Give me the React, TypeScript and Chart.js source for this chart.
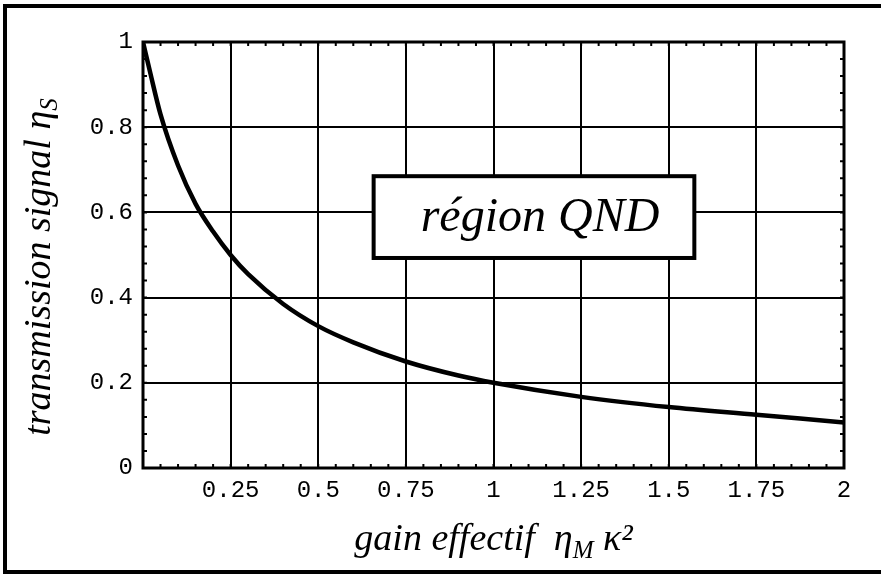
import React, { useEffect, useRef } from "react";
import { Chart, registerables } from "chart.js";

Chart.register(...registerables);

// gain effectif (x) and transmission signal (y)
const gainValues = [0, 0.02, 0.05, 0.1, 0.15, 0.2, 0.25, 0.3, 0.4, 0.5, 0.6, 0.75, 0.9, 1.0, 1.25, 1.5, 1.75, 2.0];
const transmissionValues = [1.0, 0.93, 0.83, 0.71, 0.62, 0.555, 0.5, 0.455, 0.385, 0.333, 0.295, 0.25, 0.217, 0.2, 0.167, 0.143, 0.125, 0.107];

const xTickValues = [0, 0.25, 0.5, 0.75, 1, 1.25, 1.5, 1.75, 2];
const xTickLabels = ["", "0.25", "0.5", "0.75", "1", "1.25", "1.5", "1.75", "2"];
const yTickValues = [0, 0.2, 0.4, 0.6, 0.8, 1];
const yTickLabels = ["0", "0.2", "0.4", "0.6", "0.8", "1"];

const annotationText = "région QND";
// box corners in data units
const boxX = [0.658, 1.573];
const boxY = [0.493, 0.685];

const xMinorStep = 0.05;
const yMinorStep = 0.04;

const SERIF = "'Liberation Serif', 'DejaVu Serif', serif";
const MONO = "'Liberation Mono', 'DejaVu Sans Mono', monospace";

const framePlugin = {
  id: "framePlugin",
  beforeDraw(chart: any) {
    const ctx = chart.ctx;
    ctx.save();
    ctx.fillStyle = "#fff";
    ctx.fillRect(0, 0, chart.width, chart.height);
    ctx.restore();
  },
  afterDraw(chart: any) {
    const ctx = chart.ctx;
    const xs = chart.scales.x;
    const ys = chart.scales.y;
    const a = chart.chartArea;
    ctx.save();
    // minor ticks (inward) on all four sides
    ctx.strokeStyle = "#000";
    ctx.lineWidth = 2;
    ctx.beginPath();
    for (let i = 1; i * xMinorStep < 2 - 1e-9; i++) {
      const px = xs.getPixelForValue(i * xMinorStep);
      ctx.moveTo(px, a.bottom);
      ctx.lineTo(px, a.bottom - 4);
      ctx.moveTo(px, a.top);
      ctx.lineTo(px, a.top + 4);
    }
    for (let i = 1; i * yMinorStep < 1 - 1e-9; i++) {
      const py = ys.getPixelForValue(i * yMinorStep);
      ctx.moveTo(a.left, py);
      ctx.lineTo(a.left + 4, py);
      ctx.moveTo(a.right, py);
      ctx.lineTo(a.right - 4, py);
    }
    ctx.stroke();
    // plot frame
    ctx.lineWidth = 3;
    ctx.strokeRect(a.left, a.top, a.right - a.left, a.bottom - a.top);

    // annotation box
    const bx0 = xs.getPixelForValue(boxX[0]);
    const bx1 = xs.getPixelForValue(boxX[1]);
    const by0 = ys.getPixelForValue(boxY[1]);
    const by1 = ys.getPixelForValue(boxY[0]);
    ctx.fillStyle = "#fff";
    ctx.fillRect(bx0, by0, bx1 - bx0, by1 - by0);
    ctx.lineWidth = 4;
    ctx.strokeRect(bx0, by0, bx1 - bx0, by1 - by0);
    ctx.fillStyle = "#000";
    ctx.font = `italic 48px ${SERIF}`;
    ctx.textAlign = "center";
    ctx.textBaseline = "alphabetic";
    ctx.fillText(annotationText, (bx0 + bx1) / 2 + 6, (by0 + by1) / 2 + 14);

    // y axis title: transmission signal η_S
    ctx.save();
    ctx.translate(50, (a.top + a.bottom) / 2 + 12);
    ctx.rotate(-Math.PI / 2);
    ctx.textAlign = "left";
    const mainFont = `italic 38px ${SERIF}`;
    const subFont = `italic 25px ${SERIF}`;
    ctx.font = mainFont;
    const t1 = "transmission signal ";
    const t2 = "η";
    const w1 = ctx.measureText(t1).width;
    const w2 = ctx.measureText(t2).width;
    ctx.font = subFont;
    const w3 = ctx.measureText("S").width;
    let x0 = -(w1 + w2 + w3) / 2;
    ctx.font = mainFont;
    ctx.fillText(t1, x0, 0);
    ctx.fillText(t2, x0 + w1, 0);
    ctx.font = subFont;
    ctx.fillText("S", x0 + w1 + w2, 7);
    ctx.restore();

    // x axis title: gain effectif  η_M κ²
    ctx.save();
    ctx.textAlign = "left";
    const xFont = `italic 38px ${SERIF}`;
    const xSub = `italic 25px ${SERIF}`;
    ctx.font = xFont;
    const s1 = "gain effectif  η";
    const s3 = " κ²";
    const ws1 = ctx.measureText(s1).width;
    const ws3 = ctx.measureText(s3).width;
    ctx.font = xSub;
    const ws2 = ctx.measureText("M").width;
    const cx = (a.left + a.right) / 2;
    const baseY = 550;
    let sx = cx - (ws1 + ws2 + ws3) / 2;
    ctx.font = xFont;
    ctx.fillText(s1, sx, baseY);
    ctx.font = xSub;
    ctx.fillText("M", sx + ws1, baseY + 8);
    ctx.font = xFont;
    ctx.fillText(s3, sx + ws1 + ws2, baseY);
    ctx.restore();

    // outer frame (left, top, bottom)
    ctx.lineWidth = 4;
    ctx.beginPath();
    ctx.moveTo(chart.width + 5, 6);
    ctx.lineTo(5, 6);
    ctx.lineTo(5, 572);
    ctx.lineTo(chart.width + 5, 572);
    ctx.stroke();
    ctx.restore();
  },
};

export default function App() {
  const ref = useRef<HTMLCanvasElement | null>(null);
  useEffect(() => {
    if (!ref.current) return;
    const data = gainValues.map((x, i) => ({ x, y: transmissionValues[i] }));
    const chart = new Chart(ref.current, {
      type: "line",
      data: {
        datasets: [
          {
            data,
            borderColor: "#000",
            borderWidth: 4.5,
            pointRadius: 0,
            cubicInterpolationMode: "monotone",
            fill: false,
          },
        ],
      },
      options: {
        animation: false,
        responsive: false,
        maintainAspectRatio: false,
        events: [],
        layout: { padding: { left: 0, top: 42, right: 37, bottom: 0 } },
        plugins: { legend: { display: false }, tooltip: { enabled: false } },
        scales: {
          x: {
            type: "linear",
            min: 0,
            max: 2,
            afterBuildTicks: (s: any) => {
              s.ticks = xTickValues.map((v) => ({ value: v }));
            },
            afterFit: (s: any) => {
              s.height = 108;
            },
            ticks: {
              color: "#000",
              font: { family: MONO, size: 24 },
              padding: 8,
              maxRotation: 0,
              autoSkip: false,
              callback: (v: any) => {
                const i = xTickValues.findIndex((t) => Math.abs(t - Number(v)) < 1e-9);
                return i >= 0 ? xTickLabels[i] : "";
              },
            },
            grid: { color: "#000", lineWidth: 2, drawTicks: false },
            border: { display: false },
          },
          y: {
            type: "linear",
            min: 0,
            max: 1,
            afterBuildTicks: (s: any) => {
              s.ticks = yTickValues.map((v) => ({ value: v }));
            },
            afterFit: (s: any) => {
              s.width = 143;
            },
            ticks: {
              color: "#000",
              font: { family: MONO, size: 24 },
              padding: 10,
              autoSkip: false,
              callback: (v: any) => {
                const i = yTickValues.findIndex((t) => Math.abs(t - Number(v)) < 1e-9);
                return i >= 0 ? yTickLabels[i] : "";
              },
            },
            grid: { color: "#000", lineWidth: 2, drawTicks: false },
            border: { display: false },
          },
        },
      },
      plugins: [framePlugin],
    });
    return () => chart.destroy();
  }, []);
  return (
    <div style={{ position: "fixed", left: 0, top: 0, width: 881, height: 576, background: "#fff" }}>
      <canvas ref={ref} width={881} height={576} style={{ display: "block", width: 881, height: 576 }} />
    </div>
  );
}
